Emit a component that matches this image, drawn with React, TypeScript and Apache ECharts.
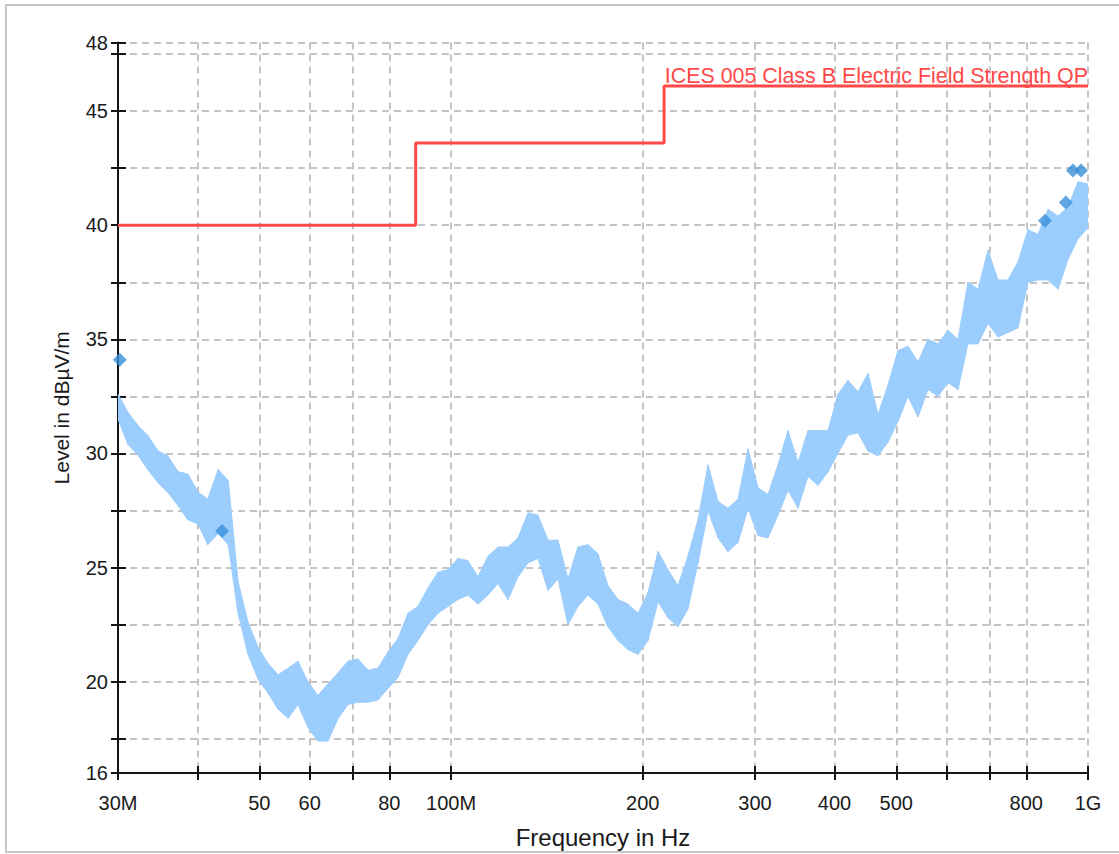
import React, { useEffect, useRef } from "react";
import * as echarts from "echarts";

const traceFreq = [30.0, 31.1, 32.3, 33.4, 34.7, 35.9, 37.3, 38.6, 40.1, 41.5, 43.1, 44.7, 46.3, 48.0, 49.8, 51.6, 53.5, 55.5, 57.5, 59.6, 61.8, 64.1, 66.5, 68.9, 71.4, 74.1, 76.8, 79.6, 82.6, 85.6, 88.7, 92.0, 95.4, 98.9, 102.5, 106.3, 110.2, 114.3, 118.5, 122.9, 127.4, 132.1, 136.9, 142.0, 147.2, 152.6, 158.2, 164.1, 170.1, 176.4, 182.9, 189.6, 196.6, 203.8, 211.3, 219.1, 227.1, 235.5, 244.2, 253.2, 262.5, 272.1, 282.2, 292.6, 303.3, 314.5, 326.1, 338.1, 350.5, 363.4, 376.8, 390.7, 405.0, 419.9, 435.4, 451.4, 468.1, 485.3, 503.1, 521.7, 540.9, 560.8, 581.4, 602.8, 625.0, 648.0, 671.9, 696.6, 722.2, 748.8, 776.4, 805.0, 834.6, 865.3, 897.2, 930.2, 964.5, 1000];
// Upper envelope of the noisy trace (dBµV/m)
const traceHigh = [32.6, 31.8, 31.2, 30.8, 30.1, 29.9, 29.2, 29.1, 28.3, 28.0, 29.3, 28.8, 24.4, 22.6, 21.5, 20.8, 20.3, 20.6, 20.9, 20.0, 19.4, 19.9, 20.4, 20.9, 21.0, 20.5, 20.6, 21.3, 21.9, 23.0, 23.3, 24.1, 24.8, 24.9, 25.4, 25.3, 24.6, 25.5, 25.9, 25.9, 26.3, 27.4, 27.3, 26.2, 26.2, 24.5, 25.9, 26.0, 25.6, 24.2, 23.6, 23.4, 23.0, 23.9, 25.7, 24.9, 24.2, 25.5, 27.1, 29.5, 27.9, 27.6, 28.0, 30.2, 28.5, 28.2, 29.5, 31.0, 29.6, 31.0, 31.0, 31.0, 32.6, 33.2, 32.7, 33.5, 31.7, 33.0, 34.5, 34.7, 34.0, 35.0, 34.8, 35.4, 35.0, 37.5, 37.2, 38.9, 37.6, 37.6, 38.4, 39.8, 39.6, 40.7, 40.4, 40.8, 41.9, 41.8];
// Lower envelope of the noisy trace (dBµV/m)
const traceLow = [31.5, 30.4, 29.9, 29.3, 28.7, 28.3, 27.7, 27.1, 26.9, 26.0, 26.5, 26.0, 23.0, 21.2, 20.1, 19.5, 18.8, 18.4, 19.0, 18.0, 17.4, 17.4, 18.4, 19.0, 19.1, 19.1, 19.2, 19.7, 20.2, 21.2, 21.8, 22.5, 23.0, 23.3, 23.6, 23.8, 23.4, 23.8, 24.3, 23.6, 24.6, 25.2, 25.4, 24.0, 24.5, 22.5, 23.3, 23.8, 23.4, 22.4, 21.8, 21.4, 21.2, 21.8, 23.5, 22.8, 22.4, 23.2, 25.2, 27.5, 26.3, 25.7, 26.1, 27.6, 26.4, 26.3, 27.3, 28.4, 27.6, 29.0, 28.6, 29.2, 30.0, 30.8, 30.9, 30.1, 29.9, 30.5, 31.4, 32.5, 31.6, 32.8, 32.5, 33.1, 32.8, 34.8, 34.8, 35.7, 35.1, 35.3, 35.5, 37.5, 37.6, 37.6, 37.2, 38.5, 39.4, 39.9];

// Limit line: ICES 005 Class B (step breakpoints, MHz / dBµV/m)
const limitFreq = [30, 88, 216, 1000];
const limitLevel = [40.0, 43.6, 46.1, 46.1];
const limitName = "ICES 005 Class B Electric Field Strength QP";

// Peak markers
const peakFreq = [30.2, 43.7, 856, 923, 947, 975];
const peakLevel = [34.1, 26.6, 40.2, 41.0, 42.4, 42.4];

// Axes
const xTickValues = [30, 40, 50, 60, 70, 80, 100, 200, 300, 400, 500, 600, 700, 800, 1000];
const xLabelValues = [30, 50, 60, 80, 100, 200, 300, 400, 500, 800, 1000];
const xLabelText = ["30M", "50", "60", "80", "100M", "200", "300", "400", "500", "800", "1G"];
const yTickValues = [16, 17.5, 20, 22.5, 25, 27.5, 30, 32.5, 35, 37.5, 40, 42.5, 45, 47.5, 48];
const yLabelValues = [16, 20, 25, 30, 35, 40, 45, 48];

const FONT = "'Liberation Sans', Arial, sans-serif";
const AXIS_COLOR = "#151515";
const TRACE_COLOR = "#9bcdfd";

export default function App() {
  const ref = useRef<HTMLDivElement>(null);

  useEffect(() => {
    if (!ref.current) return;
    const chart = echarts.init(ref.current, undefined, { renderer: "svg" });

    // one band segment between consecutive samples
    const traceData = traceFreq.slice(0, -1).map((f, i) => [
      f,
      traceFreq[i + 1],
      traceLow[i],
      traceHigh[i],
      traceLow[i + 1],
      traceHigh[i + 1],
    ]);
    const limitData = limitFreq.map((f, i) => [f, limitLevel[i]]);
    const peakData = peakFreq.map((f, i) => [f, peakLevel[i]]);

    const xLabelMap: Record<string, string> = {};
    xLabelValues.forEach((v, i) => (xLabelMap[String(v)] = xLabelText[i]));

    const gridDash = { type: [7, 5] as any, color: "#c4c4c4", width: 2 };

    const xBase = { type: "log", logBase: 10, min: 30, max: 1000, gridIndex: 0 };
    const yBase = { type: "value", min: 16, max: 48, gridIndex: 0 };

    chart.setOption({
      animation: false,
      backgroundColor: "#ffffff",
      grid: { left: 118, right: 31, top: 42.6, bottom: 81, outerBoundsMode: "none" },
      xAxis: [
        {
          ...xBase,
          name: "Frequency in Hz",
          nameLocation: "middle",
          nameGap: 52,
          nameTextStyle: { fontFamily: FONT, fontSize: 24, color: "#1a1a1a" },
          axisLine: { show: true, onZero: false, lineStyle: { color: AXIS_COLOR, width: 2 } },
          axisTick: { show: true, inside: false, length: 7, customValues: xTickValues, lineStyle: { color: AXIS_COLOR, width: 2 } },
          axisLabel: {
            show: true,
            customValues: xLabelValues,
            margin: 20,
            fontFamily: FONT,
            fontSize: 20,
            color: "#1a1a1a",
            formatter: (v: number) => xLabelMap[String(Math.round(v))] ?? String(Math.round(v)),
          },
          splitLine: { show: true, lineStyle: gridDash },
          minorTick: { show: false },
          minorSplitLine: { show: false },
        },
        {
          ...xBase,
          axisLine: { show: false, onZero: false },
          axisTick: { show: true, inside: true, length: 7, customValues: xTickValues, lineStyle: { color: AXIS_COLOR, width: 2 } },
          axisLabel: { show: false },
          splitLine: { show: false },
          position: "bottom",
        },
      ],
      yAxis: [
        {
          ...yBase,
          name: "Level in dBµV/m",
          nameLocation: "middle",
          nameGap: 46,
          nameRotate: 90,
          nameTextStyle: { fontFamily: FONT, fontSize: 21, color: "#1a1a1a" },
          axisLine: { show: true, onZero: false, lineStyle: { color: AXIS_COLOR, width: 2 } },
          axisTick: { show: true, inside: false, length: 7, customValues: yTickValues, lineStyle: { color: AXIS_COLOR, width: 2 } },
          axisLabel: {
            show: true,
            customValues: yLabelValues,
            margin: 10,
            fontFamily: FONT,
            fontSize: 20,
            color: "#1a1a1a",
          },
          splitLine: { show: true, lineStyle: gridDash },
        },
        {
          ...yBase,
          position: "left",
          axisLine: { show: false, onZero: false },
          axisTick: { show: true, inside: true, length: 8, customValues: yTickValues, lineStyle: { color: AXIS_COLOR, width: 2 } },
          axisLabel: { show: false },
          splitLine: { show: false },
        },
      ],
      series: [
        {
          type: "custom",
          name: "Trace",
          xAxisIndex: 0,
          yAxisIndex: 0,
          clip: true,
          encode: { x: [0, 1], y: [2, 3, 4, 5] },
          data: traceData,
          z: 2,
          renderItem: (params: any, api: any) => {
            const f0 = api.value(0);
            const f1 = api.value(1);
            const lo0 = api.value(2);
            const hi0 = api.value(3);
            const lo1 = api.value(4);
            const hi1 = api.value(5);
            const a = api.coord([f0, hi0]);
            const b = api.coord([f1, hi1]);
            const c = api.coord([f1, lo1]);
            const d = api.coord([f0, lo0]);
            return {
              type: "polygon",
              shape: { points: [a, b, c, d] },
              style: { fill: TRACE_COLOR, stroke: TRACE_COLOR, lineWidth: 1 },
            };
          },
        },
        {
          type: "line",
          name: limitName,
          xAxisIndex: 0,
          yAxisIndex: 0,
          data: limitData,
          step: "end",
          symbol: "none",
          lineStyle: { color: "#ff4848", width: 3 },
          z: 3,
        },
        {
          type: "scatter",
          name: "Peaks",
          xAxisIndex: 0,
          yAxisIndex: 0,
          data: peakData,
          symbol: "diamond",
          symbolSize: [14, 14],
          itemStyle: { color: "#3a8fd8" },
          z: 4,
        },
      ],
      graphic: [
        {
          type: "rect",
          silent: true,
          z: -10,
          shape: { x: 6, y: 5, width: 1200, height: 847 },
          style: { fill: "none", stroke: "#c6c6c6", lineWidth: 2 },
        },
        {
          type: "text",
          silent: true,
          z: 10,
          x: 1088,
          y: 86,
          style: {
            text: limitName,
            fill: "#ff4848",
            font: `21.4px ${FONT}`,
            align: "right",
            verticalAlign: "bottom",
          },
        },
      ],
    });

    return () => chart.dispose();
  }, []);

  return (
    <div
      ref={ref}
      style={{ position: "fixed", left: 0, top: 0, width: 1119, height: 854, background: "#fff" }}
    />
  );
}
